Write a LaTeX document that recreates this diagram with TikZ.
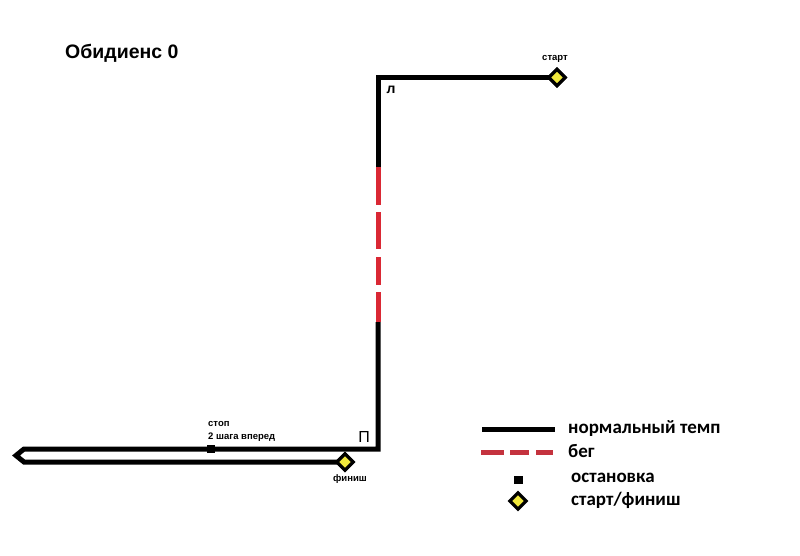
\documentclass[tikz,border=0pt]{standalone}
\usepackage{fontspec}
\setmainfont{Liberation Sans}
\newfontfamily\legfont{Carlito}
\definecolor{runred}{RGB}{218,40,52}
\definecolor{legred}{RGB}{196,50,62}
\definecolor{flagyellow}{RGB}{240,232,60}
\tikzset{
  route/.style={line width=5, line join=miter},
  runline/.style={line width=5, color=runred},
  flag/.style={draw=black, fill=flagyellow, rotate=45, minimum size=11.5, inner sep=0, line width=3.2},
  stopmark/.style={fill=black, minimum size=8, inner sep=0},
  small/.style={font=\bfseries\fontsize{9.5}{11}\selectfont, inner sep=0},
  leg/.style={font=\legfont\bfseries\fontsize{19}{22}\selectfont, anchor=west, inner sep=0},
}
\begin{document}
\begin{tikzpicture}[x=1pt,y=-1pt]
\useasboundingbox (0,0) rectangle (800,555);
% title
\node[anchor=west, inner sep=0, font=\bfseries\fontsize{19.5}{22}\selectfont] (title) at (65,53) {Обидиенс 0};
% route coordinates
\coordinate (lc) at (378,77.5);
\coordinate (rtop) at (378,167);
\coordinate (rbot) at (378,322);
\coordinate (pc) at (378,449);
\coordinate (tt) at (24,449);
\coordinate (tip) at (16,455.5);
\coordinate (tb) at (24,462);
\node[flag] (start) at (557,77.5) {};
\node[flag] (finish) at (345,462) {};
\node[stopmark] (stop) at (211,449) {};
% black parts
\draw[route] (start.center) -- (lc) -- (rtop);
\draw[route] (rbot) -- (pc) -- (tt) -- (tip) -- (tb) -- (finish.center);
% red running part
\draw[runline, dash pattern=on 38 off 7 on 37 off 8 on 28 off 7 on 30 off 20] (rtop) -- (rbot);
% redraw marks on top
\node[flag] at (start) {};
\node[flag] at (finish) {};
\node[stopmark] at (stop) {};
% labels
\node[small, anchor=south] (startlbl) at (555,63) {старт};
\node[small, anchor=north] (finlbl) at (350,474) {финиш};
\node[small, anchor=west] (stoplbl) at (208,424) {стоп};
\node[small, anchor=west] (steplbl) at (208,437) {2 шага вперед};
\node[inner sep=0, font=\bfseries\fontsize{14}{16}\selectfont] (llbl) at (391,90) {л};
\node[inner sep=0, font=\fontsize{16}{18}\selectfont] (plbl) at (364,437) {П};
% legend
\coordinate (l1a) at (482,429);
\coordinate (l1b) at (555,429);
\draw[line width=5] (l1a) -- (l1b);
\node[leg] (t1) at (568,428) {нормальный темп};
\coordinate (l2a) at (481,452);
\coordinate (l2b) at (553,452);
\draw[line width=5, color=legred, dash pattern=on 23 off 6 on 19 off 7 on 18 off 10] (l2a) -- (l2b);
\node[leg] (t2) at (568,451) {бег};
\node[stopmark, minimum width=9, minimum height=8] (lstop) at (518,480) {};
\node[leg] (t3) at (571,478) {остановка};
\node[flag] (lflag) at (518,501) {};
\node[leg] (t4) at (571,500) {старт/финиш};
\end{tikzpicture}
\end{document}
